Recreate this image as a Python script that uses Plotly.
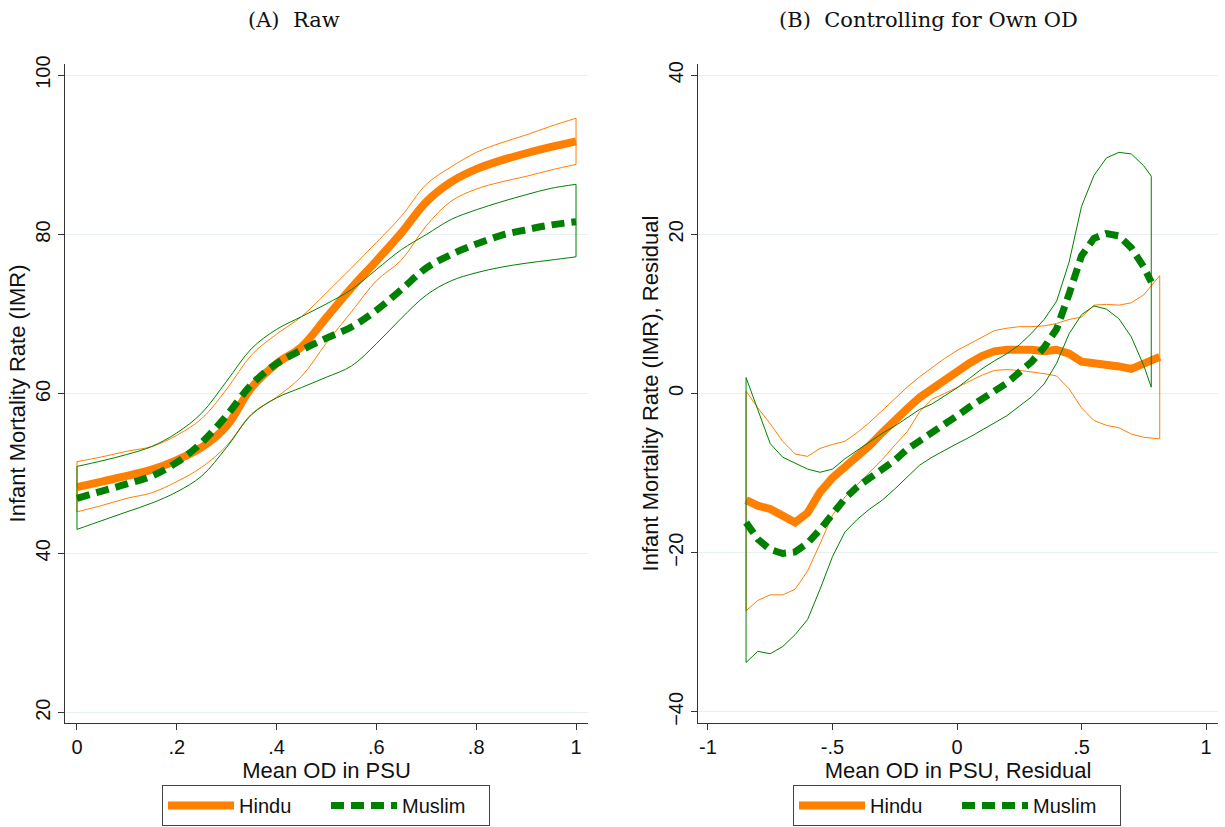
import plotly.graph_objects as go

# ---------------- Panel A: Raw ----------------
xA = [0, .05, .1, .15, .2, .25, .3, .35, .4, .45, .5, .55, .6, .65, .7, .75, .8, .85, .9, .95, 1.0]
hinduA = [48.3, 49.0, 49.7, 50.5, 51.7, 53.3, 56.0, 60.8, 63.8, 65.9, 69.6, 73.3, 76.7, 80.2, 84.1, 86.6, 88.2, 89.3, 90.2, 91.0, 91.7]
hinduA_hi = [51.5, 52.1, 52.8, 53.4, 54.8, 56.9, 60.6, 64.9, 67.5, 69.7, 72.7, 75.8, 79.0, 82.3, 86.3, 88.5, 90.3, 91.5, 92.5, 93.6, 94.6]
hinduA_lo = [45.2, 46.0, 46.9, 47.6, 49.0, 50.8, 53.5, 57.5, 59.6, 62.2, 66.4, 70.3, 74.2, 76.8, 81.1, 84.2, 85.7, 86.6, 87.3, 88.1, 88.8]
muslimA = [46.9, 47.8, 48.7, 49.7, 51.4, 53.9, 57.3, 61.2, 63.8, 65.5, 67.0, 68.4, 70.5, 73.1, 75.8, 77.5, 78.8, 79.9, 80.6, 81.2, 81.6]
muslimA_hi = [50.9, 51.6, 52.4, 53.4, 55.1, 57.6, 61.6, 65.7, 68.1, 69.7, 71.3, 73.1, 75.6, 78.1, 80.0, 81.9, 83.1, 84.1, 85.0, 85.8, 86.3]
muslimA_lo = [43.0, 44.1, 45.2, 46.3, 47.7, 49.7, 53.3, 57.4, 59.5, 60.8, 62.1, 63.5, 66.3, 69.5, 72.4, 74.2, 75.2, 75.9, 76.4, 76.8, 77.2]

# ---------------- Panel B: Controlling for own OD ----------------
xB_h = [-.847, -.8, -.75, -.7, -.65, -.6, -.55, -.5, -.45, -.4, -.35, -.3, -.25, -.2, -.15, -.1, -.05, 0,
        .05, .1, .15, .2, .25, .3, .35, .4, .45, .5, .55, .6, .65, .7, .75, .814]
hinduB = [-13.4, -14.1, -14.5, -15.3, -16.2, -15.0, -12.4, -10.6, -9.3, -7.9, -6.5, -4.9, -3.3, -1.9, -0.5, 0.6, 1.8, 2.9,
          3.8, 4.7, 5.3, 5.5, 5.6, 5.5, 5.3, 5.5, 5.0, 4.0, 3.8, 3.7, 3.4, 3.1, 3.7, 4.6]
hinduB_hi = [0.3, -1.8, -3.8, -6.0, -7.6, -7.9, -6.9, -6.4, -6.0, -4.9, -3.6, -2.1, -0.6, 0.8, 2.1, 3.3, 4.4, 5.4,
             6.2, 7.1, 7.9, 8.2, 8.4, 8.4, 8.5, 8.8, 9.3, 9.6, 11.1, 11.2, 11.1, 11.4, 12.4, 14.8]
hinduB_lo = [-27.3, -26.0, -25.3, -25.3, -24.6, -22.3, -18.9, -15.3, -13.0, -11.4, -9.9, -8.3, -6.5, -4.8, -2.3, -0.7, 0.0, 0.8,
             1.5, 2.3, 2.9, 3.0, 2.9, 2.7, 2.5, 2.2, 0.6, -1.8, -3.4, -4.0, -4.3, -5.1, -5.5, -5.7]

xB_m = [-.847, -.8, -.75, -.7, -.65, -.6, -.55, -.5, -.45, -.4, -.35, -.3, -.25, -.2, -.15, -.1, -.05, 0,
        .05, .1, .15, .2, .25, .3, .35, .4, .45, .5, .55, .6, .65, .7, .75, .78]
muslimB = [-16.2, -18.3, -19.6, -20.1, -19.9, -18.8, -17.1, -15.0, -13.2, -11.7, -10.6, -9.5, -8.4, -7.0, -6.0, -4.8, -3.9, -2.8,
           -1.7, -0.6, 0.3, 1.3, 2.6, 4.0, 5.8, 8.1, 12.5, 17.3, 19.5, 20.1, 19.8, 18.3, 15.9, 14.0]
muslimB_hi = [2.0, -2.1, -6.3, -8.0, -8.7, -9.5, -9.9, -9.5, -8.2, -7.1, -6.0, -5.0, -4.1, -3.0, -2.0, -1.3, -0.3, 0.7,
              1.9, 3.1, 4.1, 5.0, 6.1, 7.6, 9.3, 11.6, 16.5, 23.5, 27.4, 29.6, 30.3, 30.1, 28.6, 27.3]
muslimB_lo = [-33.8, -32.4, -32.7, -31.8, -30.3, -28.4, -24.6, -20.5, -17.4, -15.8, -14.5, -13.4, -12.0, -10.5, -9.0, -8.0, -7.1, -6.3,
              -5.5, -4.6, -3.8, -2.8, -1.6, -0.4, 1.2, 3.8, 7.5, 9.9, 11.0, 10.6, 9.4, 7.1, 3.5, 0.8]

xA_ticks = [0, .2, .4, .6, .8, 1]
xA_ticktext = ["0", ".2", ".4", ".6", ".8", "1"]
yA_ticks = [20, 40, 60, 80, 100]
xB_ticks = [-1, -.5, 0, .5, 1]
xB_ticktext = ["-1", "-.5", "0", ".5", "1"]
yB_ticks = [-40, -20, 0, 20, 40]

ORANGE = "#FF7F00"
GREEN = "#008000"
W, H = 1225, 827
SANS = "Liberation Sans, Arial, sans-serif"
SERIF = "DejaVu Serif, serif"

fig = go.Figure()


def add_band(xs, hi, lo, color, xa, ya, shape):
    # upper and lower bounds, plus the closing vertical segments at both ends
    for ys in (hi, lo):
        fig.add_trace(go.Scatter(x=xs, y=ys, mode="lines", line=dict(color=color, width=1, shape=shape),
                                 showlegend=False, hoverinfo="skip", xaxis=xa, yaxis=ya))
    for i in (0, -1):
        fig.add_trace(go.Scatter(x=[xs[i], xs[i]], y=[hi[i], lo[i]], mode="lines",
                                 line=dict(color=color, width=1),
                                 showlegend=False, hoverinfo="skip", xaxis=xa, yaxis=ya))


def add_panel(xs_h, h, h_hi, h_lo, xs_m, m, m_hi, m_lo, xa, ya, leg, shape):
    add_band(xs_h, h_hi, h_lo, ORANGE, xa, ya, shape)
    fig.add_trace(go.Scatter(x=xs_h, y=h, mode="lines", name="Hindu",
                             line=dict(color=ORANGE, width=8, shape=shape),
                             xaxis=xa, yaxis=ya, legend=leg))
    add_band(xs_m, m_hi, m_lo, GREEN, xa, ya, shape)
    fig.add_trace(go.Scatter(x=xs_m, y=m, mode="lines", name="Muslim",
                             line=dict(color=GREEN, width=7, dash="13px,7px", shape=shape),
                             xaxis=xa, yaxis=ya, legend=leg))


add_panel(xA, hinduA, hinduA_hi, hinduA_lo, xA, muslimA, muslimA_hi, muslimA_lo, "x", "y", "legend", "spline")
add_panel(xB_h, hinduB, hinduB_hi, hinduB_lo, xB_m, muslimB, muslimB_hi, muslimB_lo, "x2", "y2", "legend2", "linear")


def px_x(p):
    return p / W


def px_y(p):
    return (H - p) / H


axis_common = dict(showline=True, linecolor="#333", linewidth=1.2, ticks="outside", ticklen=6,
                   tickcolor="#333", tickfont=dict(family=SANS, size=20, color="#111"),
                   zeroline=False, mirror=False, automargin=False)

legend_common = dict(orientation="h", y=px_y(826), yanchor="bottom", xanchor="center",
                     bordercolor="#444", borderwidth=1, bgcolor="white", itemwidth=66,
                     font=dict(family=SANS, size=20, color="#111"), entrywidth=82)

fig.update_layout(
    width=W, height=H, margin=dict(l=0, r=0, t=0, b=0, autoexpand=False),
    paper_bgcolor="white", plot_bgcolor="white",
    font=dict(family=SANS, color="#111"),
    xaxis=dict(domain=[px_x(65), px_x(588)], range=[-0.024, 1.024], tickvals=xA_ticks, ticktext=xA_ticktext,
               showgrid=False, anchor="y",
               title=dict(text="Mean OD in PSU", font=dict(family=SANS, size=22), standoff=2), **axis_common),
    yaxis=dict(domain=[px_y(723), px_y(64)], range=[18.7, 101.4], tickvals=yA_ticks, tickangle=-90,
               showgrid=True, gridcolor="#E8F0F2", gridwidth=1, anchor="x",
               title=dict(text="Infant Mortality Rate (IMR)", font=dict(family=SANS, size=22), standoff=0),
               **axis_common),
    xaxis2=dict(domain=[px_x(698), px_x(1218)], range=[-1.04, 1.048], tickvals=xB_ticks, ticktext=xB_ticktext,
                showgrid=False, anchor="y2",
                title=dict(text="Mean OD in PSU, Residual", font=dict(family=SANS, size=22), standoff=2),
                **axis_common),
    yaxis2=dict(domain=[px_y(723), px_y(64)], range=[-41.4, 41.4], tickvals=yB_ticks, tickangle=-90,
                showgrid=True, gridcolor="#E8F0F2", gridwidth=1, anchor="x2",
                title=dict(text="Infant Mortality Rate (IMR), Residual", font=dict(family=SANS, size=22), standoff=0),
                **axis_common),
    legend=dict(x=px_x(326), **legend_common),
    legend2=dict(x=px_x(957), **legend_common),
    annotations=[
        dict(text="(A)  Raw", x=px_x(294), y=px_y(20), xref="paper", yref="paper", showarrow=False,
             font=dict(family=SERIF, size=21, color="#111"), xanchor="center", yanchor="middle"),
        dict(text="(B)  Controlling for Own OD", x=px_x(928), y=px_y(20), xref="paper", yref="paper",
             showarrow=False, font=dict(family=SERIF, size=21, color="#111"), xanchor="center", yanchor="middle"),
    ],
)

fig.write_html("out.html")
